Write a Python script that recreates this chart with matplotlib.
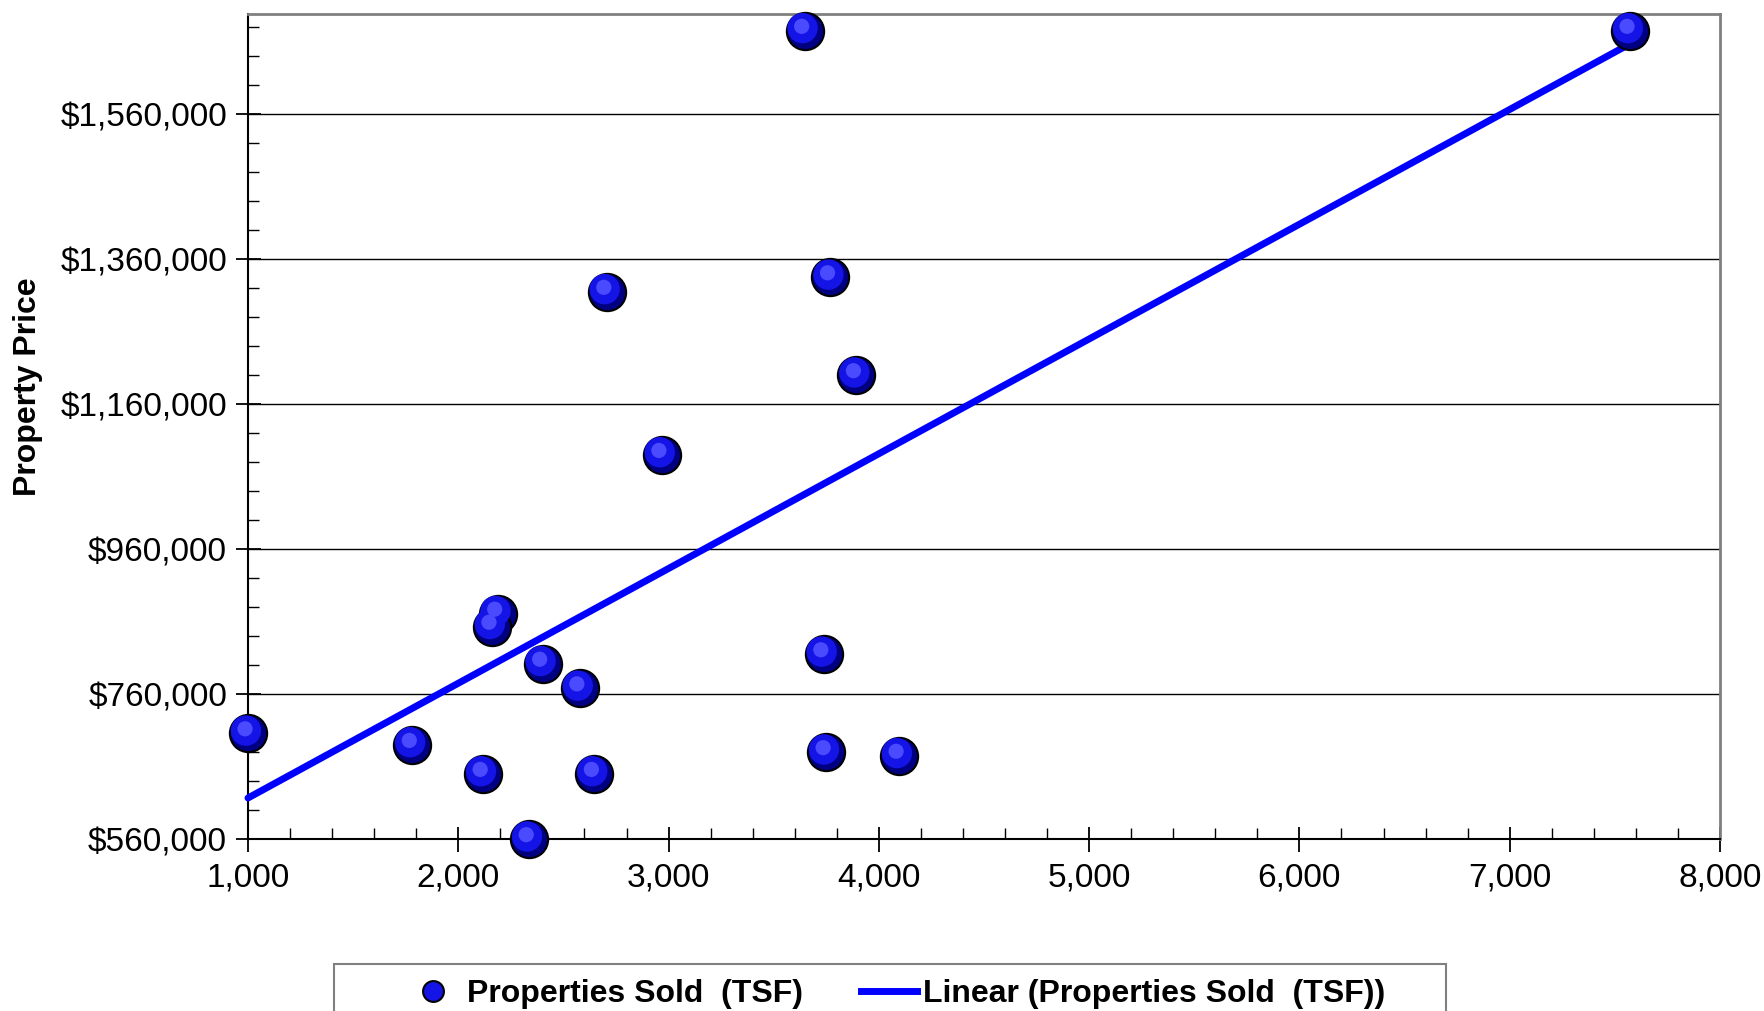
import matplotlib.pyplot as plt
import numpy as np
from matplotlib.ticker import FuncFormatter, MultipleLocator
from matplotlib.lines import Line2D
from matplotlib.patches import Rectangle

plt.rcParams['font.family'] = ['Liberation Sans', 'DejaVu Sans']

# square feet and sale price
sqft = [3647, 7572, 2706, 3770, 3893, 2968, 2187, 2160, 2401, 2578,
        3738, 1000, 1781, 2118, 2647, 3749, 4096, 2337]
price = [1675000, 1675000, 1315000, 1335000, 1200000, 1090000, 871000, 853000, 802000, 768000,
         815000, 706000, 690000, 650000, 650000, 680000, 675000, 560000]

x = np.array(sqft)
y = np.array(price)
slope, icpt = np.polyfit(x, y, 1)

fig = plt.figure(figsize=(17.64, 10.11), dpi=100)
ax = fig.add_axes([248 / 1764, 1 - 839 / 1011, (1720 - 248) / 1764, (839 - 14) / 1011])

ax.set_xlim(1000, 8000)
ax.set_ylim(560000, 1698000)
ax.yaxis.set_minor_locator(MultipleLocator(40000))
ax.xaxis.set_major_locator(MultipleLocator(1000))
ax.xaxis.set_minor_locator(MultipleLocator(200))
ax.set_yticks(np.arange(560000, 1700000, 200000))
ax.yaxis.set_major_formatter(FuncFormatter(lambda v, p: '${:,.0f}'.format(v)))
ax.xaxis.set_major_formatter(FuncFormatter(lambda v, p: '{:,.0f}'.format(v)))
ax.grid(axis='y', which='major', color='black', linewidth=1.0)
ax.set_axisbelow(True)

ax.tick_params(axis='both', which='major', direction='inout', length=18, width=1.3, labelsize=24)
ax.tick_params(axis='both', which='minor', direction='in', length=8, width=1.0)
ax.tick_params(axis='x', pad=8)
ax.tick_params(axis='y', pad=6)
for s in ['top', 'right']:
    ax.spines[s].set_color('#808080')
    ax.spines[s].set_linewidth(2)
for s in ['left', 'bottom']:
    ax.spines[s].set_linewidth(1.5)

# trendline
xl = np.array([x.min(), x.max()])
ax.plot(xl, slope * xl + icpt, color='#0000ff', linewidth=5, solid_capstyle='round', zorder=3, clip_on=False)

# shaded spheres
ax.scatter(x, y, s=720, color='#000080', edgecolors='black', linewidths=1.5, zorder=4, clip_on=False)
ax.scatter(x - 10, y + 3500, s=480, color='#1414e6', edgecolors='none', zorder=5, clip_on=False)
ax.scatter(x - 14, y + 6000, s=120, color='#4a4aff', edgecolors='none', zorder=6, clip_on=False)

fig.text(28 / 1764, 1 - 387 / 1011, 'Property Price', rotation=90, ha='center', va='center',
         fontsize=23, fontweight='bold')

# legend box runs past the bottom edge, as in the original
fig.patches.append(Rectangle((334 / 1764, -0.05), (1446 - 334) / 1764, 0.05 + 47 / 1011,
                             transform=fig.transFigure, facecolor='white', edgecolor='#808080',
                             linewidth=1.5, zorder=0))
handles = [
    Line2D([], [], linestyle='none', marker='o', markersize=15, markerfacecolor='#1414e6',
           markeredgecolor='black', markeredgewidth=1.5),
    Line2D([], [], color='#0000ff', linewidth=5),
]
leg = fig.legend(handles, ['Properties Sold  (TSF)', 'Linear (Properties Sold  (TSF))'],
                 loc='center', bbox_to_anchor=(895 / 1764, 1 - 994 / 1011), ncol=2,
                 prop={'size': 23, 'weight': 'bold'}, frameon=False,
                 handlelength=1.75, columnspacing=1.8, handletextpad=0.2, borderpad=0)

fig.savefig('out.png', dpi=100)
